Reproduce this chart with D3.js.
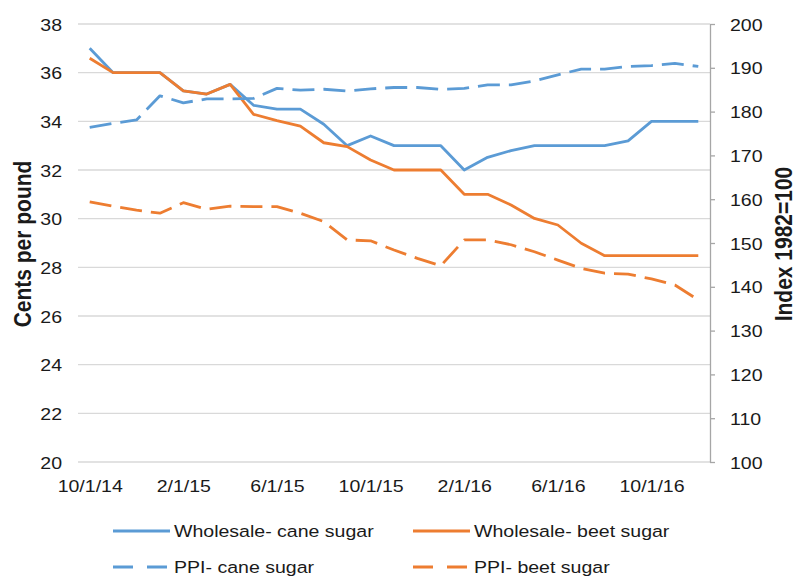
<!DOCTYPE html>
<html>
<head>
<meta charset="utf-8">
<script src="https://cdn.jsdelivr.net/npm/d3@7"></script>
<style>
  html, body { margin: 0; padding: 0; background: #fff; }
  svg text { font-family: "Liberation Sans", Arial, sans-serif; fill: #1a1a1a; }
</style>
</head>
<body>
<div id="chart"></div>
<script>
// monthly observations, 10/1/14 .. 12/1/16
const months = ['10/1/14', '11/1/14', '12/1/14', '1/1/15', '2/1/15', '3/1/15', '4/1/15', '5/1/15', '6/1/15',
  '7/1/15', '8/1/15', '9/1/15', '10/1/15', '11/1/15', '12/1/15', '1/1/16', '2/1/16', '3/1/16', '4/1/16',
  '5/1/16', '6/1/16', '7/1/16', '8/1/16', '9/1/16', '10/1/16', '11/1/16', '12/1/16'];
const tickLabels = ['10/1/14', '2/1/15', '6/1/15', '10/1/15', '2/1/16', '6/1/16', '10/1/16'];

// cents per pound (left axis)
const wholesaleCane = [37.0, 36.0, 36.0, 36.0, 35.25, 35.12, 35.52, 34.66, 34.5, 34.5, 33.88, 33.0, 33.4, 33.0,
  33.0, 33.0, 32.0, 32.52, 32.8, 33.0, 33.0, 33.0, 33.0, 33.2, 34.0, 34.0, 34.0];
const wholesaleBeet = [36.59, 36.0, 36.0, 36.0, 35.25, 35.12, 35.52, 34.29, 34.03, 33.8, 33.12, 32.96, 32.41, 32.0,
  32.0, 32.0, 31.0, 31.0, 30.56, 30.01, 29.74, 28.99, 28.48, 28.48, 28.48, 28.48, 28.48];

// index 1982=100 (right axis)
const ppiCane = [176.4, 177.3, 178.1, 183.6, 182.0, 182.9, 182.9, 183.0, 185.3, 184.9, 185.1, 184.7, 185.2, 185.5,
  185.5, 185.1, 185.3, 186.1, 186.1, 187.0, 188.4, 189.7, 189.7, 190.3, 190.5, 191.0, 190.3];
const ppiBeet = [159.4, 158.4, 157.5, 156.8, 159.2, 157.7, 158.4, 158.3, 158.3, 156.8, 154.9, 150.7, 150.5, 148.4,
  146.5, 144.8, 150.7, 150.7, 149.6, 148.0, 146.1, 144.2, 143.1, 142.9, 141.8, 140.4, 137.0];

const leftTicks = [20, 22, 24, 26, 28, 30, 32, 34, 36, 38];
const rightTicks = [100, 110, 120, 130, 140, 150, 160, 170, 180, 190, 200];

const series = [
  { name: 'Wholesale- cane sugar', values: wholesaleCane, axis: 'left', color: '#5b9bd5', dash: null },
  { name: 'Wholesale- beet sugar', values: wholesaleBeet, axis: 'left', color: '#ed7d31', dash: null },
  { name: 'PPI- cane sugar', values: ppiCane, axis: 'right', color: '#5b9bd5', dash: '22,9' },
  { name: 'PPI- beet sugar', values: ppiBeet, axis: 'right', color: '#ed7d31', dash: '22,9' }
];

const width = 797, height = 578;
const plot = { left: 78, right: 710, top: 24, bottom: 462 };
const sx = 1.15; // picture text is slightly wide

const svg = d3.select('#chart').append('svg')
  .attr('width', width)
  .attr('height', height);

const x = d3.scalePoint()
  .domain(months)
  .range([plot.left, plot.right])
  .padding(0.5);

const yLeft = d3.scaleLinear().domain([20, 38]).range([plot.bottom, plot.top]);
const yRight = d3.scaleLinear().domain([100, 200]).range([plot.bottom, plot.top]);

// gridlines
svg.append('g')
  .selectAll('line')
  .data(leftTicks)
  .enter()
  .append('line')
  .attr('x1', plot.left)
  .attr('x2', plot.right)
  .attr('y1', d => yLeft(d))
  .attr('y2', d => yLeft(d))
  .attr('stroke', '#d9d9d9')
  .attr('stroke-width', 1.3);

// left axis labels
const leftAxis = svg.append('g')
  .attr('transform', `translate(${plot.left},0)`)
  .call(d3.axisLeft(yLeft).tickValues(leftTicks).tickSize(0).tickFormat(d3.format('d')));
leftAxis.select('.domain').remove();
leftAxis.selectAll('text')
  .attr('x', -16 / sx)
  .attr('dy', '0.36em')
  .attr('transform', `scale(${sx},1)`)
  .style('font-size', '17px');

// right axis
const rightAxis = svg.append('g')
  .attr('transform', `translate(${plot.right},0)`)
  .call(d3.axisRight(yRight).tickValues(rightTicks).tickSize(5).tickSizeOuter(0));
rightAxis.select('.domain').attr('stroke', '#a6a6a6').attr('stroke-width', 1.3);
rightAxis.selectAll('line').attr('stroke', '#a6a6a6').attr('stroke-width', 1.3);
rightAxis.selectAll('text')
  .attr('x', 20 / sx)
  .attr('dy', '0.36em')
  .attr('transform', `scale(${sx},1)`)
  .style('font-size', '17px');

// bottom axis
const bottomAxis = svg.append('g')
  .attr('transform', `translate(0,${plot.bottom})`)
  .call(d3.axisBottom(x).tickValues(tickLabels).tickSize(0));
bottomAxis.select('.domain').remove();
bottomAxis.selectAll('text')
  .attr('y', 30)
  .attr('dy', 0)
  .attr('transform', `scale(${sx},1)`)
  .style('font-size', '17px');

// axis titles
function rotatedTitle(cx, cy, label) {
  svg.append('text')
    .attr('transform', `translate(${cx},${cy}) scale(${sx},1) rotate(-90)`)
    .attr('text-anchor', 'middle')
    .attr('dy', '0.34em')
    .style('font-size', '21px')
    .style('font-weight', 'bold')
    .text(label);
}
rotatedTitle(23, 244, 'Cents per pound');
rotatedTitle(784, 244, 'Index 1982=100');

// lines
const lineFor = s => d3.line()
  .x((d, i) => x(months[i]))
  .y(d => (s.axis === 'left' ? yLeft(d) : yRight(d)));

svg.append('g')
  .selectAll('path')
  .data(series)
  .enter()
  .append('path')
  .attr('d', s => lineFor(s)(s.values))
  .attr('fill', 'none')
  .attr('stroke', s => s.color)
  .attr('stroke-width', 2.8)
  .attr('stroke-dasharray', s => s.dash)
  .attr('stroke-linejoin', 'round');

// legend
const legendPos = [[113, 531], [413, 531], [113, 567], [413, 567]];
const legend = svg.append('g')
  .selectAll('g')
  .data(series)
  .enter()
  .append('g')
  .attr('transform', (s, i) => `translate(${legendPos[i][0]},${legendPos[i][1]})`);

legend.append('line')
  .attr('x1', 0)
  .attr('x2', 57)
  .attr('stroke', s => s.color)
  .attr('stroke-width', 2.8)
  .attr('stroke-dasharray', s => (s.dash ? '20,14' : null));

legend.append('text')
  .attr('x', 61 / sx)
  .attr('dy', '0.36em')
  .attr('transform', `scale(${sx},1)`)
  .style('font-size', '17px')
  .text(s => s.name);
</script>
</body>
</html>
